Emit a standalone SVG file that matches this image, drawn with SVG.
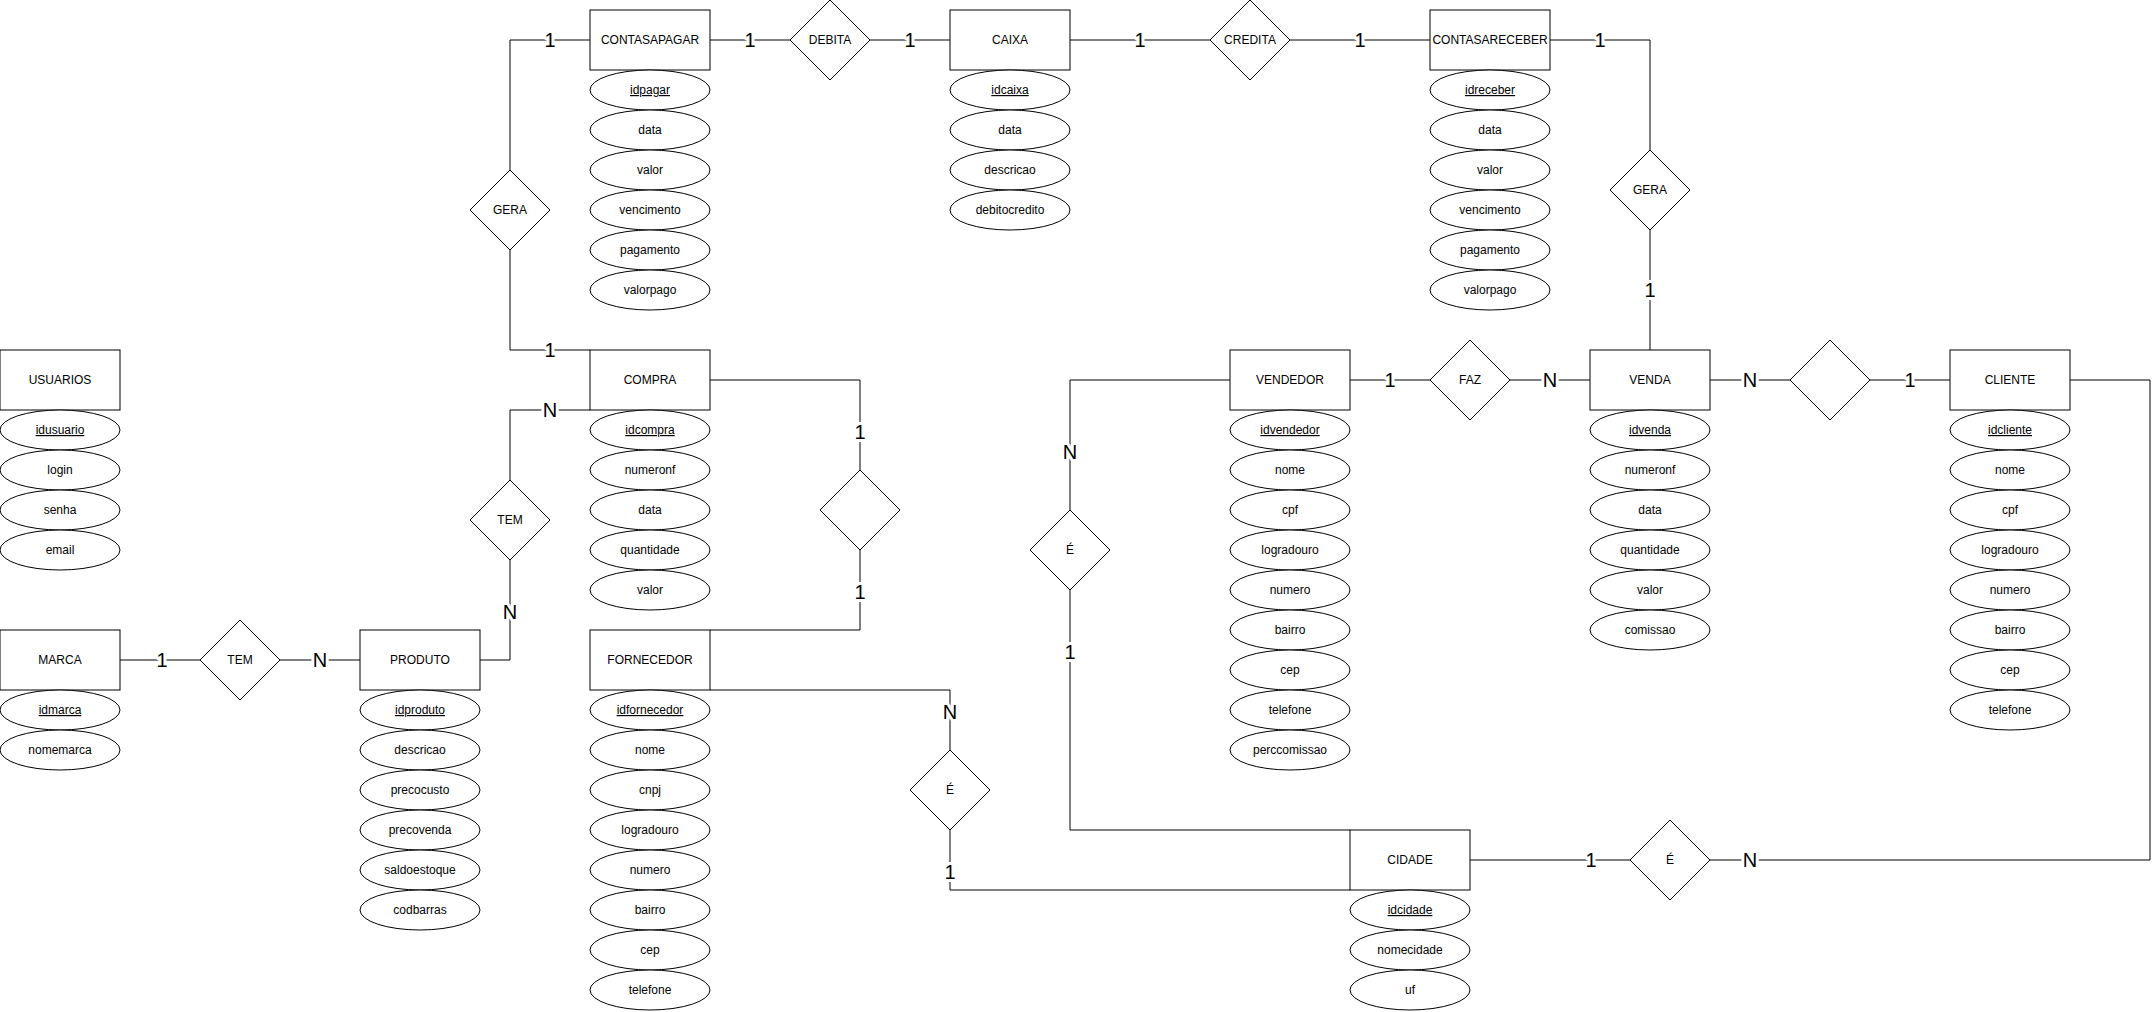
<svg xmlns="http://www.w3.org/2000/svg" width="2154" height="1012" viewBox="0 0 2154 1012">
<style>
.bg{fill:#ffffff}
.ent rect{fill:#fff;stroke:#000;stroke-width:1}
.att ellipse{fill:#fff;stroke:#000;stroke-width:1}
.rel polygon{fill:#fff;stroke:#000;stroke-width:1}
text{font-family:"Liberation Sans",Arial,sans-serif;font-size:12px;fill:#000;text-anchor:middle}
.k{text-decoration:underline}
#edges path{fill:none;stroke:#000;stroke-width:1}
#edges text{font-size:20px;stroke:#fff;stroke-width:6px;paint-order:stroke;stroke-linejoin:round}
</style>
<rect class="bg" x="0" y="0" width="2154" height="1012"/>
<g id="edges">
<path d="M510 170V40H590"/><text x="550" y="47">1</text>
<path d="M510 250V350H590"/><text x="550" y="357">1</text>
<path d="M710 40H790"/><text x="750" y="47">1</text>
<path d="M870 40H950"/><text x="910" y="47">1</text>
<path d="M1070 40H1210"/><text x="1140" y="47">1</text>
<path d="M1290 40H1430"/><text x="1360" y="47">1</text>
<path d="M1550 40H1650V150"/><text x="1600" y="47">1</text>
<path d="M1650 230V350"/><text x="1650" y="297">1</text>
<path d="M590 410H510V480"/><text x="550" y="417">N</text>
<path d="M510 560V660H480"/><text x="510" y="619">N</text>
<path d="M120 660H200"/><text x="162" y="667">1</text>
<path d="M280 660H360"/><text x="320" y="667">N</text>
<path d="M710 380H860V470"/><text x="860" y="439">1</text>
<path d="M860 550V630H710"/><text x="860" y="599">1</text>
<path d="M710 690H950V750"/><text x="950" y="719">N</text>
<path d="M950 830V890H1350"/><text x="950" y="879">1</text>
<path d="M1230 380H1070V510"/><text x="1070" y="459">N</text>
<path d="M1070 590V830H1350"/><text x="1070" y="659">1</text>
<path d="M1350 380H1430"/><text x="1390" y="387">1</text>
<path d="M1510 380H1590"/><text x="1550" y="387">N</text>
<path d="M1710 380H1790"/><text x="1750" y="387">N</text>
<path d="M1870 380H1950"/><text x="1910" y="387">1</text>
<path d="M1470 860H1630"/><text x="1591" y="867">1</text>
<path d="M1710 860H2150V380H2070"/><text x="1750" y="867">N</text>
</g>

<!-- relationships -->
<g id="rel-gera1" class="rel"><polygon points="510,170 550,210 510,250 470,210"/><text x="510" y="214">GERA</text></g>
<g id="rel-debita" class="rel"><polygon points="830,0 870,40 830,80 790,40"/><text x="830" y="44">DEBITA</text></g>
<g id="rel-credita" class="rel"><polygon points="1250,0 1290,40 1250,80 1210,40"/><text x="1250" y="44">CREDITA</text></g>
<g id="rel-gera2" class="rel"><polygon points="1650,150 1690,190 1650,230 1610,190"/><text x="1650" y="194">GERA</text></g>
<g id="rel-tem1" class="rel"><polygon points="510,480 550,520 510,560 470,520"/><text x="510" y="524">TEM</text></g>
<g id="rel-tem2" class="rel"><polygon points="240,620 280,660 240,700 200,660"/><text x="240" y="664">TEM</text></g>
<g id="rel-compra-fornecedor" class="rel"><polygon points="860,470 900,510 860,550 820,510"/></g>
<g id="rel-e-fornecedor" class="rel"><polygon points="950,750 990,790 950,830 910,790"/><text x="950" y="794">É</text></g>
<g id="rel-e-vendedor" class="rel"><polygon points="1070,510 1110,550 1070,590 1030,550"/><text x="1070" y="554">É</text></g>
<g id="rel-faz" class="rel"><polygon points="1470,340 1510,380 1470,420 1430,380"/><text x="1470" y="384">FAZ</text></g>
<g id="rel-venda-cliente" class="rel"><polygon points="1830,340 1870,380 1830,420 1790,380"/></g>
<g id="rel-e-cliente" class="rel"><polygon points="1670,820 1710,860 1670,900 1630,860"/><text x="1670" y="864">É</text></g>

<!-- CONTASAPAGAR -->
<g id="ent-contasapagar" class="ent"><rect x="590" y="10" width="120" height="60"/><text x="650" y="44">CONTASAPAGAR</text></g>
<g id="att-contasapagar" class="att">
<ellipse cx="650" cy="90" rx="60" ry="20"/><text class="k" x="650" y="94">idpagar</text>
<ellipse cx="650" cy="130" rx="60" ry="20"/><text x="650" y="134">data</text>
<ellipse cx="650" cy="170" rx="60" ry="20"/><text x="650" y="174">valor</text>
<ellipse cx="650" cy="210" rx="60" ry="20"/><text x="650" y="214">vencimento</text>
<ellipse cx="650" cy="250" rx="60" ry="20"/><text x="650" y="254">pagamento</text>
<ellipse cx="650" cy="290" rx="60" ry="20"/><text x="650" y="294">valorpago</text>
</g>

<!-- CAIXA -->
<g id="ent-caixa" class="ent"><rect x="950" y="10" width="120" height="60"/><text x="1010" y="44">CAIXA</text></g>
<g id="att-caixa" class="att">
<ellipse cx="1010" cy="90" rx="60" ry="20"/><text class="k" x="1010" y="94">idcaixa</text>
<ellipse cx="1010" cy="130" rx="60" ry="20"/><text x="1010" y="134">data</text>
<ellipse cx="1010" cy="170" rx="60" ry="20"/><text x="1010" y="174">descricao</text>
<ellipse cx="1010" cy="210" rx="60" ry="20"/><text x="1010" y="214">debitocredito</text>
</g>

<!-- CONTASARECEBER -->
<g id="ent-contasareceber" class="ent"><rect x="1430" y="10" width="120" height="60"/><text x="1490" y="44">CONTASARECEBER</text></g>
<g id="att-contasareceber" class="att">
<ellipse cx="1490" cy="90" rx="60" ry="20"/><text class="k" x="1490" y="94">idreceber</text>
<ellipse cx="1490" cy="130" rx="60" ry="20"/><text x="1490" y="134">data</text>
<ellipse cx="1490" cy="170" rx="60" ry="20"/><text x="1490" y="174">valor</text>
<ellipse cx="1490" cy="210" rx="60" ry="20"/><text x="1490" y="214">vencimento</text>
<ellipse cx="1490" cy="250" rx="60" ry="20"/><text x="1490" y="254">pagamento</text>
<ellipse cx="1490" cy="290" rx="60" ry="20"/><text x="1490" y="294">valorpago</text>
</g>

<!-- USUARIOS -->
<g id="ent-usuarios" class="ent"><rect x="0" y="350" width="120" height="60"/><text x="60" y="384">USUARIOS</text></g>
<g id="att-usuarios" class="att">
<ellipse cx="60" cy="430" rx="60" ry="20"/><text class="k" x="60" y="434">idusuario</text>
<ellipse cx="60" cy="470" rx="60" ry="20"/><text x="60" y="474">login</text>
<ellipse cx="60" cy="510" rx="60" ry="20"/><text x="60" y="514">senha</text>
<ellipse cx="60" cy="550" rx="60" ry="20"/><text x="60" y="554">email</text>
</g>

<!-- COMPRA -->
<g id="ent-compra" class="ent"><rect x="590" y="350" width="120" height="60"/><text x="650" y="384">COMPRA</text></g>
<g id="att-compra" class="att">
<ellipse cx="650" cy="430" rx="60" ry="20"/><text class="k" x="650" y="434">idcompra</text>
<ellipse cx="650" cy="470" rx="60" ry="20"/><text x="650" y="474">numeronf</text>
<ellipse cx="650" cy="510" rx="60" ry="20"/><text x="650" y="514">data</text>
<ellipse cx="650" cy="550" rx="60" ry="20"/><text x="650" y="554">quantidade</text>
<ellipse cx="650" cy="590" rx="60" ry="20"/><text x="650" y="594">valor</text>
</g>

<!-- VENDEDOR -->
<g id="ent-vendedor" class="ent"><rect x="1230" y="350" width="120" height="60"/><text x="1290" y="384">VENDEDOR</text></g>
<g id="att-vendedor" class="att">
<ellipse cx="1290" cy="430" rx="60" ry="20"/><text class="k" x="1290" y="434">idvendedor</text>
<ellipse cx="1290" cy="470" rx="60" ry="20"/><text x="1290" y="474">nome</text>
<ellipse cx="1290" cy="510" rx="60" ry="20"/><text x="1290" y="514">cpf</text>
<ellipse cx="1290" cy="550" rx="60" ry="20"/><text x="1290" y="554">logradouro</text>
<ellipse cx="1290" cy="590" rx="60" ry="20"/><text x="1290" y="594">numero</text>
<ellipse cx="1290" cy="630" rx="60" ry="20"/><text x="1290" y="634">bairro</text>
<ellipse cx="1290" cy="670" rx="60" ry="20"/><text x="1290" y="674">cep</text>
<ellipse cx="1290" cy="710" rx="60" ry="20"/><text x="1290" y="714">telefone</text>
<ellipse cx="1290" cy="750" rx="60" ry="20"/><text x="1290" y="754">perccomissao</text>
</g>

<!-- VENDA -->
<g id="ent-venda" class="ent"><rect x="1590" y="350" width="120" height="60"/><text x="1650" y="384">VENDA</text></g>
<g id="att-venda" class="att">
<ellipse cx="1650" cy="430" rx="60" ry="20"/><text class="k" x="1650" y="434">idvenda</text>
<ellipse cx="1650" cy="470" rx="60" ry="20"/><text x="1650" y="474">numeronf</text>
<ellipse cx="1650" cy="510" rx="60" ry="20"/><text x="1650" y="514">data</text>
<ellipse cx="1650" cy="550" rx="60" ry="20"/><text x="1650" y="554">quantidade</text>
<ellipse cx="1650" cy="590" rx="60" ry="20"/><text x="1650" y="594">valor</text>
<ellipse cx="1650" cy="630" rx="60" ry="20"/><text x="1650" y="634">comissao</text>
</g>

<!-- CLIENTE -->
<g id="ent-cliente" class="ent"><rect x="1950" y="350" width="120" height="60"/><text x="2010" y="384">CLIENTE</text></g>
<g id="att-cliente" class="att">
<ellipse cx="2010" cy="430" rx="60" ry="20"/><text class="k" x="2010" y="434">idcliente</text>
<ellipse cx="2010" cy="470" rx="60" ry="20"/><text x="2010" y="474">nome</text>
<ellipse cx="2010" cy="510" rx="60" ry="20"/><text x="2010" y="514">cpf</text>
<ellipse cx="2010" cy="550" rx="60" ry="20"/><text x="2010" y="554">logradouro</text>
<ellipse cx="2010" cy="590" rx="60" ry="20"/><text x="2010" y="594">numero</text>
<ellipse cx="2010" cy="630" rx="60" ry="20"/><text x="2010" y="634">bairro</text>
<ellipse cx="2010" cy="670" rx="60" ry="20"/><text x="2010" y="674">cep</text>
<ellipse cx="2010" cy="710" rx="60" ry="20"/><text x="2010" y="714">telefone</text>
</g>

<!-- MARCA -->
<g id="ent-marca" class="ent"><rect x="0" y="630" width="120" height="60"/><text x="60" y="664">MARCA</text></g>
<g id="att-marca" class="att">
<ellipse cx="60" cy="710" rx="60" ry="20"/><text class="k" x="60" y="714">idmarca</text>
<ellipse cx="60" cy="750" rx="60" ry="20"/><text x="60" y="754">nomemarca</text>
</g>

<!-- PRODUTO -->
<g id="ent-produto" class="ent"><rect x="360" y="630" width="120" height="60"/><text x="420" y="664">PRODUTO</text></g>
<g id="att-produto" class="att">
<ellipse cx="420" cy="710" rx="60" ry="20"/><text class="k" x="420" y="714">idproduto</text>
<ellipse cx="420" cy="750" rx="60" ry="20"/><text x="420" y="754">descricao</text>
<ellipse cx="420" cy="790" rx="60" ry="20"/><text x="420" y="794">precocusto</text>
<ellipse cx="420" cy="830" rx="60" ry="20"/><text x="420" y="834">precovenda</text>
<ellipse cx="420" cy="870" rx="60" ry="20"/><text x="420" y="874">saldoestoque</text>
<ellipse cx="420" cy="910" rx="60" ry="20"/><text x="420" y="914">codbarras</text>
</g>

<!-- FORNECEDOR -->
<g id="ent-fornecedor" class="ent"><rect x="590" y="630" width="120" height="60"/><text x="650" y="664">FORNECEDOR</text></g>
<g id="att-fornecedor" class="att">
<ellipse cx="650" cy="710" rx="60" ry="20"/><text class="k" x="650" y="714">idfornecedor</text>
<ellipse cx="650" cy="750" rx="60" ry="20"/><text x="650" y="754">nome</text>
<ellipse cx="650" cy="790" rx="60" ry="20"/><text x="650" y="794">cnpj</text>
<ellipse cx="650" cy="830" rx="60" ry="20"/><text x="650" y="834">logradouro</text>
<ellipse cx="650" cy="870" rx="60" ry="20"/><text x="650" y="874">numero</text>
<ellipse cx="650" cy="910" rx="60" ry="20"/><text x="650" y="914">bairro</text>
<ellipse cx="650" cy="950" rx="60" ry="20"/><text x="650" y="954">cep</text>
<ellipse cx="650" cy="990" rx="60" ry="20"/><text x="650" y="994">telefone</text>
</g>

<!-- CIDADE -->
<g id="ent-cidade" class="ent"><rect x="1350" y="830" width="120" height="60"/><text x="1410" y="864">CIDADE</text></g>
<g id="att-cidade" class="att">
<ellipse cx="1410" cy="910" rx="60" ry="20"/><text class="k" x="1410" y="914">idcidade</text>
<ellipse cx="1410" cy="950" rx="60" ry="20"/><text x="1410" y="954">nomecidade</text>
<ellipse cx="1410" cy="990" rx="60" ry="20"/><text x="1410" y="994">uf</text>
</g>
</svg>
